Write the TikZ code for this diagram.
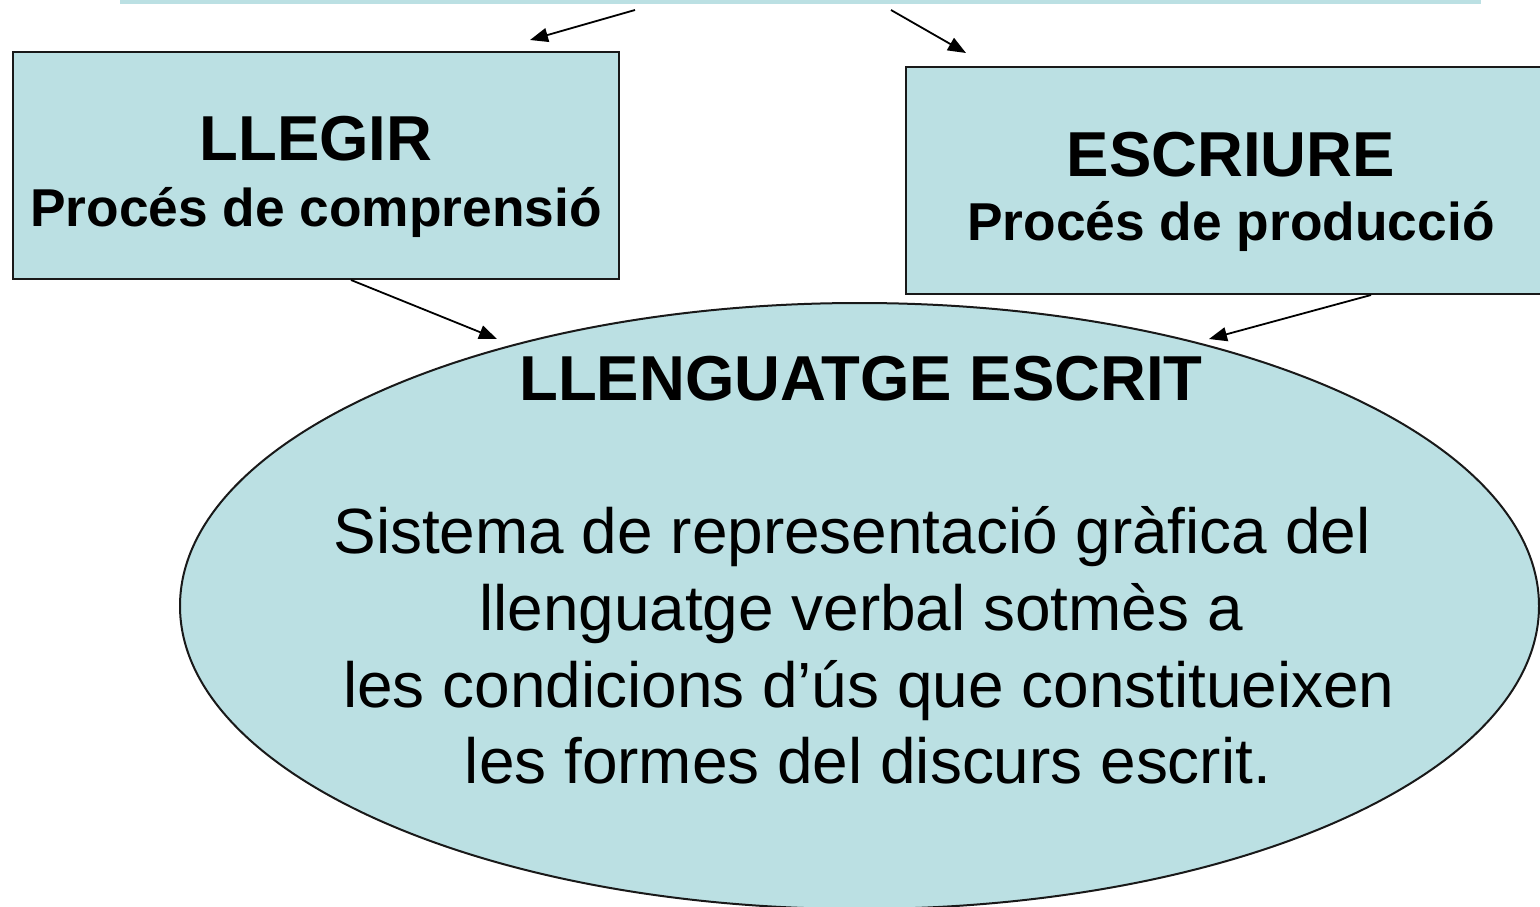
\documentclass[tikz,border=0pt]{standalone}
\usepackage{fontspec}
\setmainfont{Liberation Sans}
\usetikzlibrary{shapes.geometric,arrows.meta}
\definecolor{paleblue}{RGB}{187,224,227}
\tikzset{
  boxshape/.style={draw=black!90, line width=2pt, fill=paleblue, inner sep=0pt},
  conn/.style={line width=1.8pt, -{Triangle[length=18pt,width=14pt]}},
  bigtitle/.style={anchor=base, inner sep=0pt, font=\fontsize{63.5}{76}\selectfont\bfseries},
  subtitle/.style={anchor=base, inner sep=0pt, font=\fontsize{53.3}{64}\selectfont\bfseries},
  bodytext/.style={anchor=base, inner sep=0pt, font=\fontsize{63.9}{76}\selectfont}
}
\begin{document}
\begin{tikzpicture}[x=1pt,y=-1pt]
\useasboundingbox (0,0) rectangle (1540,906);
\fill[white] (0,0) rectangle (1540,906);
% top strip (bottom of a box above the picture)
\fill[paleblue] (120,0) rectangle (1481,3.5);
% boxes
\node[boxshape, minimum width=606pt, minimum height=227pt] (read) at (316,165.5) {};
\node[boxshape, minimum width=650pt, minimum height=227pt] (write) at (1231,180.5) {};
% ellipse
\node[boxshape, ellipse, minimum width=1359pt, minimum height=606pt] (lang) at (859.5,606) {};
% texts
\node[bigtitle] (t1) at (316,160) {LLEGIR};
\node[subtitle] (t2) at (316,226) {Procés de comprensió};
\node[bigtitle] (t3) at (1231,176) {ESCRIURE};
\node[subtitle] (t4) at (1231,240) {Procés de producció};
\node[bigtitle] (t5) at (861,400) {LLENGUATGE ESCRIT};
\node[bodytext] (l1) at (852,553) {Sistema de representació gràfica del};
\node[bodytext] (l2) at (861,630) {llenguatge verbal sotmès a};
\node[bodytext] (l3) at (869,707) {les condicions d’ús que constitueixen};
\node[bodytext] (l4) at (868,783) {les formes del discurs escrit.};
% connector coordinates
\coordinate (s1) at (635,10);
\coordinate (e1) at (530,40);
\coordinate (s2) at (891,10);
\coordinate (e2) at (966,53);
\coordinate (s3) at (351,280);
\coordinate (e3) at (497,339);
\coordinate (s4) at (1371,295);
\coordinate (e4) at (1209,339);
\draw[conn] (s1) -- (e1);
\draw[conn] (s2) -- (e2);
\draw[conn] (s3) -- (e3);
\draw[conn] (s4) -- (e4);
\end{tikzpicture}
\end{document}
